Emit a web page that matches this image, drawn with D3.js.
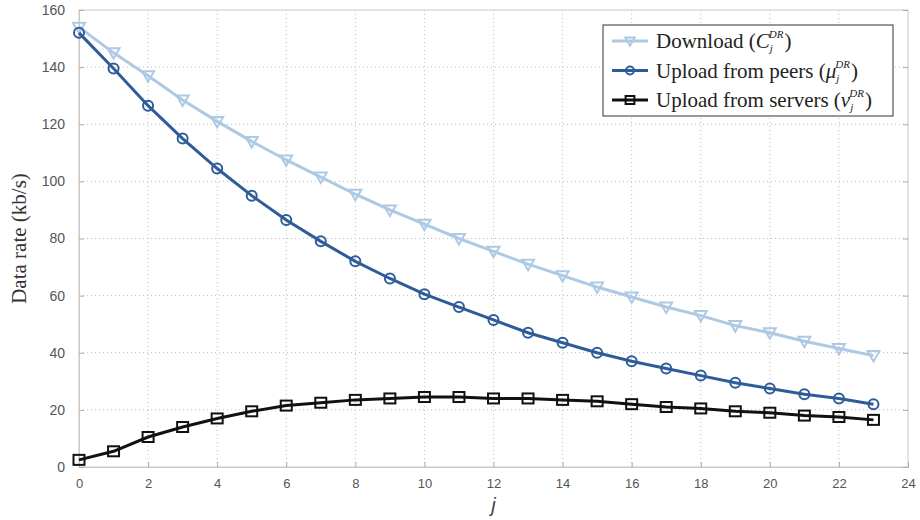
<!DOCTYPE html>
<html><head><meta charset="utf-8">
<script src="https://cdn.jsdelivr.net/npm/d3@7"></script>
<style>body{margin:0;background:#fff}</style>
</head><body>
<svg id="c" width="920" height="520"></svg>
<script>
const jValues = d3.range(0, 24);
const download = [154,145,137,128.5,121,114,107.5,101.5,95.5,90,85,80,75.5,71,67,63,59.5,56,53,49.5,47,44,41.5,39];
const peers = [152,139.5,126.5,115,104.5,95,86.5,79,72,66,60.5,56,51.5,47,43.5,40,37,34.5,32,29.5,27.5,25.5,24,22];
const servers = [2.5,5.5,10.5,14,17,19.5,21.5,22.5,23.5,24,24.5,24.5,24,24,23.5,23,22,21,20.5,19.5,19,18,17.5,16.5];
const xTicks = d3.range(0, 25, 2);
const yTicks = d3.range(0, 161, 20);

const svg = d3.select("#c");
const L = 79, R = 908, T = 10, B = 467;
const x = d3.scaleLinear().domain([0,24]).range([L,R]);
const y = d3.scaleLinear().domain([0,160]).range([B,T]);

// grid
const g = svg.append("g");
g.selectAll(".gx").data(xTicks.slice(1,-1)).join("line")
  .attr("x1",d=>x(d)).attr("x2",d=>x(d)).attr("y1",T).attr("y2",B)
  .attr("stroke","#bdbdbd").attr("stroke-width",1).attr("stroke-dasharray","1,3");
g.selectAll(".gy").data(yTicks.slice(1,-1)).join("line")
  .attr("x1",L).attr("x2",R).attr("y1",d=>y(d)).attr("y2",d=>y(d))
  .attr("stroke","#bdbdbd").attr("stroke-width",1).attr("stroke-dasharray","1,3");

// frame
svg.append("rect").attr("x",L).attr("y",T).attr("width",R-L).attr("height",B-T)
  .attr("fill","none").attr("stroke","#c8c8c8").attr("stroke-width",1);

// axes
const xAxis = svg.append("g").attr("transform",`translate(0,${B})`)
  .call(d3.axisBottom(x).tickValues(xTicks).tickSize(-5).tickPadding(12));
const yAxis = svg.append("g").attr("transform",`translate(${L},0)`)
  .call(d3.axisLeft(y).tickValues(yTicks).tickSize(-5).tickPadding(14));
[xAxis,yAxis].forEach(a=>{
  a.select(".domain").attr("stroke","#c8c8c8");
  a.selectAll(".tick line").attr("stroke","#aaa");
  a.selectAll("text").attr("fill","#555").attr("font-family","Liberation Sans, Arial, sans-serif").attr("font-size",14);
});
xAxis.selectAll("text").attr("font-size",13).attr("transform","scale(1,1)");
// right ticks
svg.append("g").attr("transform",`translate(${R},0)`)
  .call(d3.axisRight(y).tickValues(yTicks).tickSize(-5).tickFormat(""))
  .call(a=>{a.select(".domain").remove();a.selectAll(".tick line").attr("stroke","#aaa");});

// titles
svg.append("text").attr("transform",`translate(26,${(T+B)/2}) rotate(-90)`)
  .attr("text-anchor","middle").attr("font-family","Liberation Serif, Times New Roman, serif")
  .attr("font-size",21).attr("fill","#333").text("Data rate (kb/s)");
svg.append("text").attr("x",x(12)).attr("y",512).attr("text-anchor","middle")
  .attr("font-family","Liberation Sans, Arial, sans-serif").attr("font-style","italic")
  .attr("font-size",20).attr("fill","#444").text("j");

const series = [
  {name:"Download", sym:"C", vals:download, color:"#aec9e4", marker:"tri"},
  {name:"Upload from peers", sym:"μ", vals:peers, color:"#2e5c98", marker:"circ"},
  {name:"Upload from servers", sym:"v", vals:servers, color:"#111", marker:"sq"}
];
const line = d3.line().x((d,i)=>x(jValues[i])).y(d=>y(d));

function marker(sel, type, color, k){
  k = k || 1;
  if(type==="tri"){
    sel.append("path").attr("d",`M${-6*k},${-4.5*k}L${6*k},${-4.5*k}L0,${6*k}Z`);
  } else if(type==="circ"){
    sel.append("circle").attr("r",5*k);
  } else {
    sel.append("rect").attr("x",-5.5*k).attr("y",-5*k).attr("width",11*k).attr("height",10*k);
  }
  sel.selectAll("path,circle,rect").attr("fill","none").attr("stroke",color).attr("stroke-width",2);
}

series.forEach(s=>{
  svg.append("path").datum(s.vals).attr("d",line).attr("fill","none")
    .attr("stroke",s.color).attr("stroke-width",3);
  svg.append("g").selectAll("g").data(s.vals).join("g")
    .attr("transform",(d,i)=>`translate(${x(jValues[i])},${y(d)})`)
    .each(function(){ marker(d3.select(this), s.marker, s.color); });
});

// legend
const lg = svg.append("g");
lg.append("rect").attr("x",603).attr("y",25).attr("width",290).attr("height",91)
  .attr("fill","#fff").attr("stroke","#333").attr("stroke-width",1);
series.forEach((s,i)=>{
  const yy = 41 + i*29.5;
  lg.append("line").attr("x1",612).attr("x2",648).attr("y1",yy).attr("y2",yy)
    .attr("stroke",s.color).attr("stroke-width",3);
  const mg = lg.append("g").attr("transform",`translate(630,${yy})`);
  marker(mg, s.marker, s.color, 0.8);
  const t = lg.append("text").attr("x",656).attr("y",yy+7)
    .attr("font-family","Liberation Serif, Times New Roman, serif").attr("font-size",21).attr("fill","#222");
  t.append("tspan").text(s.name+" (");
  t.append("tspan").attr("font-style","italic").text(s.sym);
  t.append("tspan").attr("font-style","italic").attr("font-size",11).attr("dy",4).text("j");
  t.append("tspan").attr("font-style","italic").attr("font-size",11).attr("dx",-4).attr("dy",-14).text("DR");
  t.append("tspan").attr("dy",10).attr("dx",1).text(")");
});
</script>
</body></html>
